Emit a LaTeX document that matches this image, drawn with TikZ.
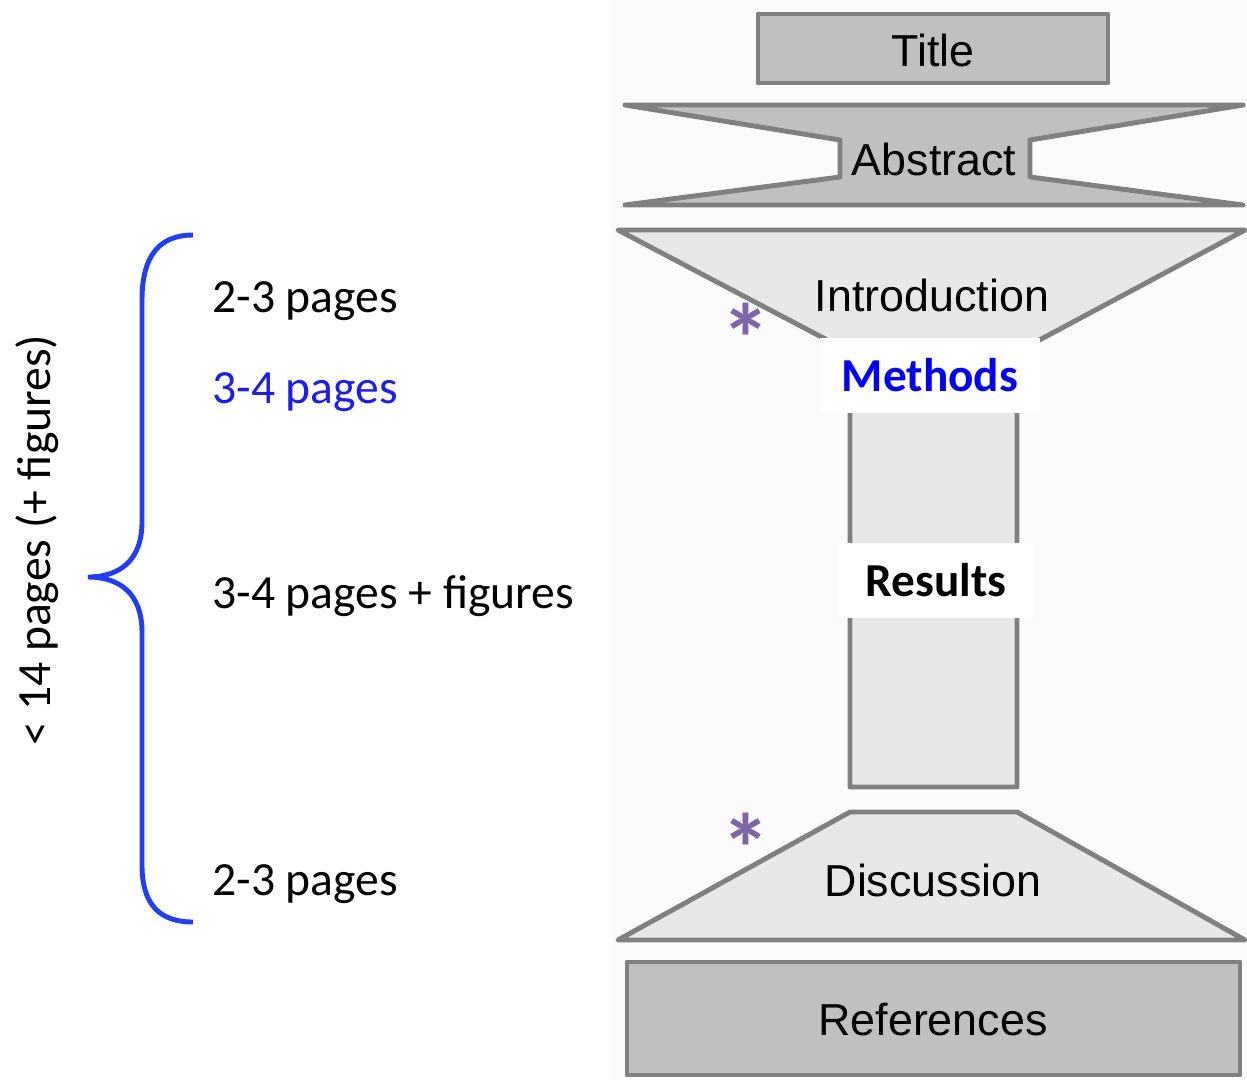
\documentclass[tikz,border=0pt]{standalone}
\usepackage{fontspec}
\setmainfont{Liberation Sans}
\newfontfamily\carlito{Carlito}
\usetikzlibrary{positioning}
\definecolor{pgray}{HTML}{808080}
\definecolor{pdark}{HTML}{C0C0C0}
\definecolor{plight}{HTML}{E8E8E8}
\definecolor{pblue}{HTML}{1F3CFF}
\definecolor{ptext}{HTML}{1A1AFF}
\definecolor{ppurple}{HTML}{7E64A8}
\tikzset{
  part/.style={draw=pgray, line width=2.8pt, line join=round},
  parttext/.style={font=\fontsize{25.5}{30}\selectfont, text=black, inner sep=0pt, anchor=base},
  pagetext/.style={font=\carlito\fontsize{27.1}{32}\selectfont, inner sep=0pt, anchor=base west},
  sectag/.style={fill=white, font=\carlito\bfseries\fontsize{26.9}{32}\selectfont, inner sep=0pt},
  star/.style={font=\carlito\bfseries\fontsize{56}{60}\selectfont, text=ppurple, inner sep=0pt}
}

\begin{document}
\begin{tikzpicture}[x=0.02cm, y=-0.02cm]
\useasboundingbox (0,0) rectangle (1247,1079);
\fill[black!1.5] (612,0) rectangle (1247,1079);
% the paper shape
\draw[part, fill=pdark] (758,14) rectangle (1108,83);
\node[parttext] (title) at (933,66) {Title};
\draw[part, fill=pdark] (625,105) -- (1243,105) -- (1030,140) -- (1030,177)
  -- (1243,205) -- (625,205) -- (840,177) -- (840,140) -- cycle;
\node[parttext] (abstract) at (934,175) {Abstract};
\draw[part, fill=plight] (618,230) -- (1245,230) -- (1017,352) -- (1017,787)
  -- (850,787) -- (850,352) -- cycle;
\node[parttext] (intro) at (932,311) {Introduction};
\node[sectag, text=blue, minimum width=4.4cm, minimum height=1.5cm] (methods) at (930,375) {Methods};
\node[sectag, text=black, minimum width=3.94cm, minimum height=1.5cm] (results) at (936,580) {Results};
\draw[part, fill=plight] (850,812) -- (1017,812) -- (1245,940) -- (618,940) -- cycle;
\node[parttext] (discussion) at (933,896) {Discussion};
\draw[part, fill=pdark] (627,962) rectangle (1240,1075);
\node[parttext] (refs) at (933,1035) {References};
\node[star] (introstar) at (746,338) {*};
\node[star] (discstar) at (746,848) {*};
% page counts
\node[pagetext] (intropages) at (212,312) {2-3 pages};
\node[pagetext, text=ptext] (methpages) at (212,403) {3-4 pages};
\node[pagetext] (respages) at (212,608) {3-4 pages + figures};
\node[pagetext] (discpages) at (212,895) {2-3 pages};
\draw[pblue, line width=2.8pt] (193,235) .. controls (160,235) and (142,255) .. (142,300)
  -- (142,522) .. controls (142,560) and (120,577) .. (88,577)
  .. controls (120,577) and (142,594) .. (142,632)
  -- (142,865) .. controls (142,905) and (160,922) .. (193,922);
\node[pagetext, anchor=center, rotate=90] (total) at (37,540) {< 14 pages (+ figures)};
\end{tikzpicture}
\end{document}
